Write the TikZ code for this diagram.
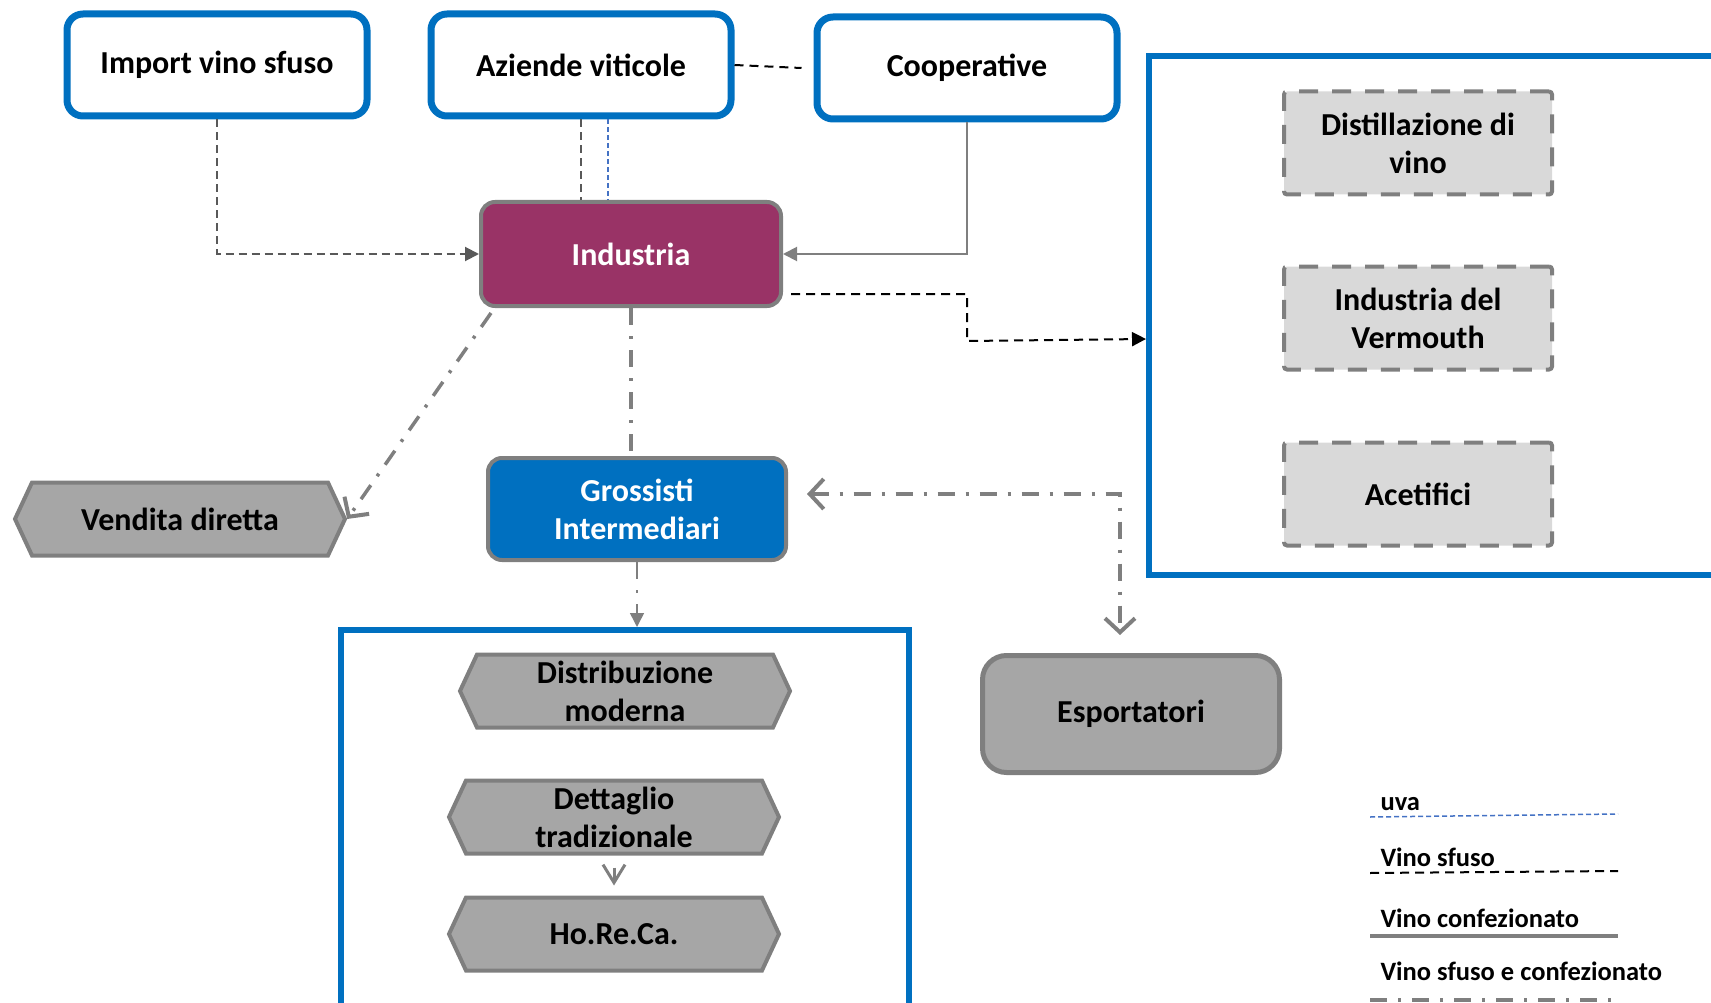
\documentclass[tikz,border=0pt]{standalone}
\usepackage{fontspec}
\setmainfont{Carlito}
\usetikzlibrary{shapes.symbols}
\usetikzlibrary{arrows.meta}
\usetikzlibrary{calc}

\definecolor{boxblue}{HTML}{0070C0}
\definecolor{indpurple}{HTML}{993366}
\definecolor{edgegray}{HTML}{7F7F7F}
\definecolor{hexgray}{HTML}{A6A6A6}
\definecolor{plantgray}{HTML}{D9D9D9}
\definecolor{linegray}{HTML}{595959}
\definecolor{uvablue}{HTML}{4472C4}

\begin{document}
\begin{tikzpicture} [
    x=1pt, y=-1pt,
    every node/.style = { font=\bfseries\fontsize{32}{38}\selectfont, align=center },
    source/.style    = { rectangle, draw=boxblue, line width=7pt, fill=white,
                         rounded corners=16pt, minimum width=300pt, minimum height=102pt },
    industry/.style  = { rectangle, draw=edgegray, line width=4pt, fill=indpurple, text=white,
                         rounded corners=14pt, minimum width=300pt, minimum height=104pt },
    wholesale/.style = { rectangle, draw=edgegray, line width=4pt, fill=boxblue, text=white,
                         rounded corners=14pt, minimum width=298pt, minimum height=102pt },
    export/.style    = { rectangle, draw=edgegray, line width=5pt, fill=hexgray,
                         rounded corners=24pt, minimum width=297pt, minimum height=117pt },
    plant/.style     = { rectangle, draw=edgegray, line width=4pt, fill=plantgray,
                         dash pattern=on 19pt off 14pt, rounded corners=3pt,
                         minimum width=268pt, minimum height=103pt },
    outlet/.style    = { signal, signal to=west and east, signal pointer angle=130,
                         draw=edgegray, line width=4pt, fill=hexgray,
                         minimum width=330pt, minimum height=73pt },
    frame/.style     = { rectangle, draw=boxblue, line width=6pt },
    key/.style       = { anchor=base west, align=left,
                         font=\bfseries\fontsize{26.5}{32}\selectfont },
    bulk/.style      = { draw=linegray, line width=2pt, dash pattern=on 8pt off 5pt },
    bulkblack/.style = { draw=black, line width=2pt, dash pattern=on 9pt off 6pt },
    packed/.style    = { draw=edgegray, line width=2pt },
    mixed/.style     = { draw=edgegray, line width=3.5pt,
                         dash pattern=on 17pt off 11pt on 3pt off 11pt },
    grape/.style     = { draw=uvablue, line width=1.5pt, dash pattern=on 5pt off 3pt },
    fillhead/.style  = { -{Triangle[length=14pt,width=14pt]} },
    openhead/.style  = { -{Straight Barb[length=14pt,width=30pt,line width=4pt]} },
  ]

\useasboundingbox (0,0) rectangle (1711,1003);
\clip (0,0) rectangle (1711,1003);

% frames
\node [frame, minimum width=591pt, minimum height=519pt] (processing) at (1444.5,315.5) {};
\node [frame, minimum width=568pt, minimum height=400pt] (retail)     at (625,830) {};

\node [source]    (import)    at (217,65)   {Import vino sfuso};
\node [source]    (aziende)   at (581,65)   {Aziende viticole};
\node [source]    (coop)      at (967,68)   {Cooperative};
\node [industry]  (industria) at (631,254)  {Industria};

\node [plant]     (distil)    at (1418,143) {Distillazione di\\vino};
\node [plant]     (vermouth)  at (1418,318) {Industria del\\Vermouth};
\node [plant]     (aceto)     at (1418,494) {Acetifici};

\node [outlet]    (vendita)   at (180,519)  {Vendita diretta};
\node [wholesale] (grossisti) at (637,509)  {Grossisti\\Intermediari};
\node [export]    (esport)    at (1131,714) {Esportatori};

\node [outlet]    (distrib)   at (625,691)  {Distribuzione\\moderna};
\node [outlet]    (dettaglio) at (614,817)  {Dettaglio\\tradizionale};
\node [outlet]    (horeca)    at (614,934)  {Ho.Re.Ca.};

% legend
\node [key] (keyuva)   at (1377,810) {uva};
\node [key] (keysfuso) at (1377,866) {Vino sfuso};
\node [key] (keyconf)  at (1377,927) {Vino confezionato};
\node [key] (keymix)   at (1377,980) {Vino sfuso e confezionato};

\begin{scope}
    \path [bulk, fillhead]     (import)  |- (industria);
    \path [packed, fillhead]   (coop)    |- (industria);
    \path [bulk]               (aziende.south) -- (aziende.south |- industria.north);
    \path [grape]              ($(aziende.south)+(27,0)$) -- ($(industria.north)+(-23,0)$);
    \path [bulkblack]          (aziende.east) -- ($(coop.west)+(-12,0)$);
    \path [bulkblack, fillhead, draw=black]
          ([xshift=8pt,yshift=14pt]industria.south east) -- ++(176,0) -- ++(0,47)
          -- (processing.west |- 0,339);
    \path [mixed]              (industria.south) -- (industria.south |- grossisti.north);
    \path [mixed, openhead]    ($(industria.south west)+(12,5)$) -- (vendita.east);
    \path [mixed, line width=1.5pt, fillhead]
          (grossisti.south) -- (grossisti.south |- retail.north);
    \path [mixed, {Straight Barb[length=14pt,width=30pt,line width=4pt]}-{Straight Barb[length=14pt,width=30pt,line width=4pt]}]
          ($(grossisti.east)+(19,-15)$) -| ($(esport.north)+(-11,-18)$);
    \path [packed, line width=3pt, -{Straight Barb[length=18pt,width=22pt]}]
          ($(dettaglio.south)+(0,12)$) -- ($(horeca.north)+(0,-10)$);
    % legend lines
    \path [grape]              ($(keyuva.base west)+(-7,7)$)   -- ++(248,-3);
    \path [bulkblack]          ($(keysfuso.base west)+(-7,7)$) -- ++(248,-2);
    \path [packed, line width=4pt] ($(keyconf.base west)+(-7,9)$) -- ++(248,0);
    \path [mixed]              ($(keymix.base west)+(-7,20)$)  -- ++(248,0);
\end{scope}

\end{tikzpicture}
\end{document}
